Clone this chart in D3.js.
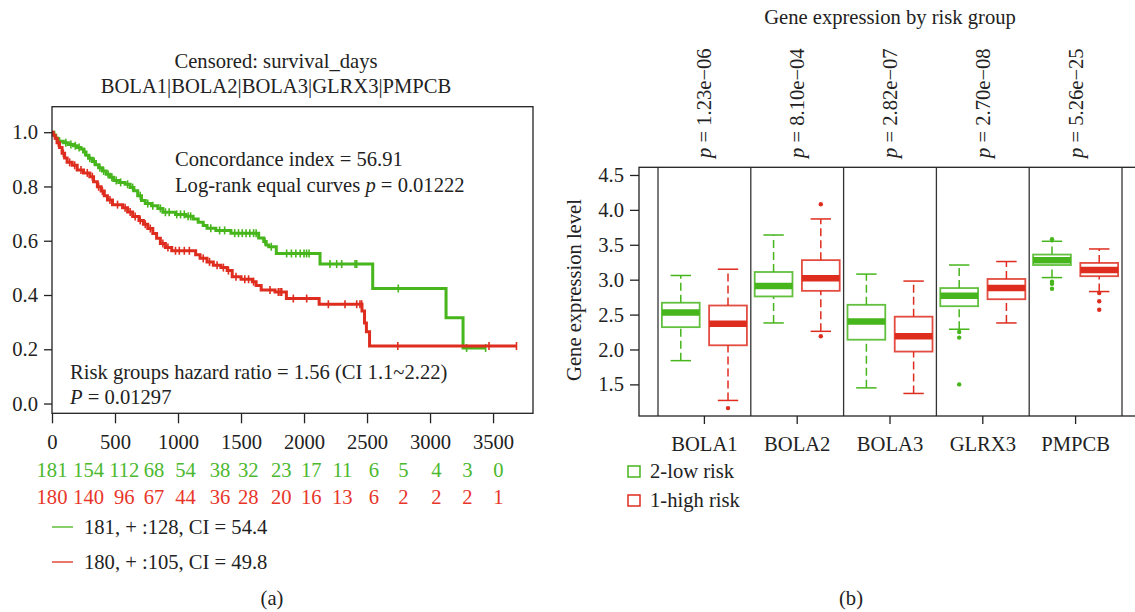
<!DOCTYPE html>
<html>
<head>
<meta charset="utf-8">
<script src="https://cdn.jsdelivr.net/npm/d3@7"></script>
<style>
  body { margin: 0; background: #fff; }
  svg { font-family: "Liberation Serif", "Times New Roman", serif; }
</style>
</head>
<body>
<svg id="chart" width="1135" height="612"></svg>
<script>
'use strict';

// ---- Kaplan-Meier data (time in days, survival after the drop) ----
const lowSteps = [[0, 1.0], [15, 0.989], [30, 0.978], [45, 0.967], [90, 0.961], [130, 0.955], [170, 0.95],
  [200, 0.944], [230, 0.938], [250, 0.927], [270, 0.915], [290, 0.904], [320, 0.892], [345, 0.88],
  [370, 0.869], [400, 0.857], [430, 0.845], [460, 0.834], [490, 0.822], [530, 0.815], [580, 0.808],
  [620, 0.796], [650, 0.784], [680, 0.766], [710, 0.748], [740, 0.737], [790, 0.729], [840, 0.719],
  [880, 0.705], [980, 0.697], [1060, 0.69], [1120, 0.68], [1160, 0.668], [1200, 0.656], [1230, 0.646],
  [1300, 0.638], [1420, 0.628], [1640, 0.61], [1680, 0.597], [1700, 0.584], [1720, 0.578], [1780, 0.553],
  [2127, 0.514], [2545, 0.424], [3127, 0.316], [3262, 0.205]];
const lowCensor = [60, 110, 150, 185, 215, 260, 300, 335, 380, 410, 445, 475, 510, 545, 600, 640, 700, 760,
  800, 860, 900, 930, 990, 1020, 1050, 1080, 1100, 1260, 1330, 1370, 1450, 1480, 1510, 1540, 1570, 1600,
  1620, 1690, 1740, 1862, 1900, 1935, 1970, 2000, 2020, 2040, 2206, 2259, 2299, 2405, 2418, 2748, 3290, 3441];

const highSteps = [[0, 1.0], [10, 0.989], [25, 0.978], [40, 0.961], [60, 0.944], [80, 0.922], [100, 0.905],
  [120, 0.889], [160, 0.878], [200, 0.861], [250, 0.85], [300, 0.836], [330, 0.817], [360, 0.799],
  [390, 0.783], [415, 0.766], [440, 0.75], [480, 0.733], [560, 0.722], [600, 0.706], [640, 0.689],
  [690, 0.675], [725, 0.661], [760, 0.645], [800, 0.627], [830, 0.609], [860, 0.59], [900, 0.575],
  [950, 0.563], [1140, 0.548], [1175, 0.535], [1230, 0.522], [1280, 0.51], [1340, 0.501], [1390, 0.49],
  [1430, 0.467], [1500, 0.458], [1590, 0.449], [1620, 0.435], [1660, 0.418], [1770, 0.411], [1860, 0.387],
  [2120, 0.366], [2460, 0.341], [2480, 0.297], [2495, 0.265], [2520, 0.212]];
const highCensor = [50, 90, 140, 180, 230, 280, 320, 370, 400, 460, 520, 580, 620, 660, 700, 740, 780, 880,
  920, 980, 1010, 1050, 1090, 1200, 1250, 1310, 1360, 1400, 1460, 1530, 1560, 1600, 1730, 1796, 1810, 1823,
  1915, 2021, 2193, 2325, 2418, 2444, 2458, 2744, 3468, 3686];

// numbers at risk; columns sit where the picture prints them (in days on the x scale)
const riskCols = [0, 290, 574, 809, 1060, 1334, 1558, 1820, 2058, 2304, 2555, 2788, 3050, 3296, 3542];
const lowAtRisk = [181, 154, 112, 68, 54, 38, 32, 23, 17, 11, 6, 5, 4, 3, 0];
const highAtRisk = [180, 140, 96, 67, 44, 36, 28, 20, 16, 13, 6, 2, 2, 2, 1];
const kmXTicks = [0, 500, 1000, 1500, 2000, 2500, 3000, 3500];
const kmYTicks = [0, 0.2, 0.4, 0.6, 0.8, 1.0];

// ---- Box plot data: [whisker low, Q1, median, Q3, whisker high] ----
const genes = ['BOLA1', 'BOLA2', 'BOLA3', 'GLRX3', 'PMPCB'];
const pValues = ['1.23e\u221206', '8.10e\u221204', '2.82e\u221207', '2.70e\u221208', '5.26e\u221225'];
const lowStats = [[1.84, 2.32, 2.53, 2.67, 3.06], [2.38, 2.76, 2.91, 3.11, 3.64], [1.45, 2.14, 2.40, 2.64, 3.08],
  [2.29, 2.62, 2.77, 2.88, 3.21], [3.03, 3.21, 3.28, 3.36, 3.55]];
const highStats = [[1.27, 2.06, 2.37, 2.63, 3.15], [2.26, 2.84, 3.02, 3.28, 3.87], [1.37, 1.97, 2.19, 2.47, 2.98],
  [2.38, 2.72, 2.88, 3.01, 3.26], [2.83, 3.05, 3.14, 3.24, 3.44]];
const lowOutliers = [[], [], [], [2.25, 2.17, 1.50], [3.58, 2.97, 2.94, 2.87]];
const highOutliers = [[1.16], [4.08, 2.19], [], [], [2.81, 2.69, 2.57]];
const exprTicks = [1.5, 2.0, 2.5, 3.0, 3.5, 4.0, 4.5];

const GREEN = '#47b51c';
const RED = '#de2d1f';
const INK = '#222';
const FS = 20.6; // font size used all over
const svg = d3.select('#chart');

// ================= (a) Kaplan-Meier =================
const kx = d3.scaleLinear().domain([0, 3817]).range([52, 533]);
const ky = d3.scaleLinear().domain([-0.036, 1.094]).range([413.3, 106.7]);

const km = svg.append('g');
km.append('text').attr('x', 276).attr('y', 68).attr('text-anchor', 'middle')
  .attr('font-size', FS).attr('fill', INK).text('Censored: survival_days');
km.append('text').attr('x', 276).attr('y', 93).attr('text-anchor', 'middle')
  .attr('font-size', FS).attr('fill', INK).text('BOLA1|BOLA2|BOLA3|GLRX3|PMPCB');

km.append('g').attr('transform', 'translate(52,0)')
  .call(d3.axisLeft(ky).tickValues(kmYTicks).tickFormat(d3.format('.1f')).tickSize(8).tickPadding(6))
  .call(g => g.select('.domain').remove())
  .attr('font-family', null).attr('font-size', FS);
km.append('g').attr('transform', 'translate(0,413.3)')
  .call(d3.axisBottom(kx).tickValues(kmXTicks).tickFormat(d3.format('d')).tickSize(10).tickPadding(11))
  .call(g => g.select('.domain').remove())
  .attr('font-family', null).attr('font-size', FS);
km.selectAll('.tick line').attr('stroke', INK).attr('stroke-width', 1.3);
km.selectAll('.tick text').attr('fill', INK);

const survAt = (steps, t) => steps[d3.bisector(d => d[0]).right(steps, t) - 1][1];
const stepLine = d3.line().x(d => kx(d[0])).y(d => ky(d[1])).curve(d3.curveStepAfter);

function drawCurve(steps, censor, color) {
  const end = d3.max(censor);
  const pts = steps.concat([[end, steps[steps.length - 1][1]]]);
  km.append('path').attr('d', stepLine(pts)).attr('fill', 'none')
    .attr('stroke', color).attr('stroke-width', 3);
  km.append('g').selectAll('line').data(censor).join('line')
    .attr('x1', d => kx(d)).attr('x2', d => kx(d))
    .attr('y1', d => ky(survAt(steps, d)) - 4).attr('y2', d => ky(survAt(steps, d)) + 4)
    .attr('stroke', color).attr('stroke-width', 1.6);
}
drawCurve(lowSteps, lowCensor, GREEN);
drawCurve(highSteps, highCensor, RED);

km.append('rect').attr('x', 52).attr('y', 106.7).attr('width', 533 - 52).attr('height', 413.3 - 106.7)
  .attr('fill', 'none').attr('stroke', INK).attr('stroke-width', 1.3);

const note = km.append('g').attr('font-size', FS).attr('fill', INK);
note.append('text').attr('x', 175).attr('y', 166).text('Concordance index = 56.91');
const lr = note.append('text').attr('x', 175).attr('y', 192);
lr.append('tspan').text('Log-rank equal curves ');
lr.append('tspan').attr('font-style', 'italic').text('p');
lr.append('tspan').text(' = 0.01222');
note.append('text').attr('x', 70).attr('y', 379).text('Risk groups hazard ratio = 1.56 (CI 1.1~2.22)');
const pp = note.append('text').attr('x', 70).attr('y', 404);
pp.append('tspan').attr('font-style', 'italic').text('P');
pp.append('tspan').text(' = 0.01297');

km.append('g').selectAll('text').data(lowAtRisk).join('text')
  .attr('x', (d, i) => kx(riskCols[i])).attr('y', 477).attr('text-anchor', 'middle')
  .attr('font-size', FS).attr('fill', '#4cb82e').text(d => d);
km.append('g').selectAll('text').data(highAtRisk).join('text')
  .attr('x', (d, i) => kx(riskCols[i])).attr('y', 504).attr('text-anchor', 'middle')
  .attr('font-size', FS).attr('fill', '#e8352a').text(d => d);

const kmLegend = [['181, + :128, CI = 54.4', GREEN], ['180, + :105, CI = 49.8', RED]];
kmLegend.forEach(([label, color], i) => {
  const y = 527 + i * 35;
  km.append('line').attr('x1', 52).attr('x2', 73).attr('y1', y).attr('y2', y)
    .attr('stroke', color).attr('stroke-width', 1.3);
  km.append('text').attr('x', 84).attr('y', y + 7).attr('font-size', FS).attr('fill', INK).text(label);
});
km.append('text').attr('x', 272).attr('y', 605).attr('text-anchor', 'middle')
  .attr('font-size', FS).attr('fill', INK).text('(a)');

// ================= (b) Box plots =================
const bx = d3.scaleBand().domain(genes).range([658, 1122]);
const sub = d3.scaleBand().domain(['low', 'high']).range([-42.5, 42.5]).paddingInner(0.2);
const by = d3.scaleLinear().domain([1.047, 4.61]).range([416, 167.3]);
const center = g => bx(g) + bx.bandwidth() / 2;

const bp = svg.append('g');
bp.append('text').attr('x', 890).attr('y', 24).attr('text-anchor', 'middle')
  .attr('font-size', FS).attr('fill', INK).text('Gene expression by risk group');

genes.forEach((g, i) => {
  const t = bp.append('text').attr('font-size', FS).attr('fill', INK)
    .attr('transform', `translate(${center(g) + 7},158) rotate(-90)`);
  t.append('tspan').attr('font-style', 'italic').text('p');
  t.append('tspan').text(' = ' + pValues[i]);
});

bp.append('g').attr('transform', 'translate(639,0)')
  .call(d3.axisLeft(by).tickValues(exprTicks).tickFormat(d3.format('.1f')).tickSize(9).tickPadding(6))
  .call(g => g.select('.domain').remove())
  .attr('font-family', null).attr('font-size', FS);
bp.append('g').attr('transform', 'translate(0,416)')
  .call(d3.axisBottom(bx).tickSize(8).tickPadding(12))
  .call(g => g.select('.domain').remove())
  .attr('font-family', null).attr('font-size', FS);
bp.selectAll('.tick line').attr('stroke', INK).attr('stroke-width', 1.3);
bp.selectAll('.tick text').attr('fill', INK);

bp.append('text').attr('transform', 'translate(581,290) rotate(-90)').attr('text-anchor', 'middle')
  .attr('font-size', FS).attr('fill', INK).text('Gene expression level');

// panel dividers
bp.append('g').selectAll('line').data(genes.concat(['end'])).join('line')
  .attr('x1', d => d === 'end' ? 1122 : bx(d)).attr('x2', d => d === 'end' ? 1122 : bx(d))
  .attr('y1', 167.3).attr('y2', 416).attr('stroke', '#333').attr('stroke-width', 1.3);

function drawBox(stats, outliers, key, color) {
  genes.forEach((g, i) => {
    const [lo, q1, med, q3, hi] = stats[i];
    const x0 = center(g) + sub(key);
    const w = sub.bandwidth();
    const cx = x0 + w / 2;
    const grp = bp.append('g');
    grp.selectAll('line.wh').data([[lo, q1], [q3, hi]]).join('line').attr('class', 'wh')
      .attr('x1', cx).attr('x2', cx).attr('y1', d => by(d[0])).attr('y2', d => by(d[1]))
      .attr('stroke', color).attr('stroke-width', 1.5).attr('stroke-dasharray', '8,4');
    grp.selectAll('line.cap').data([lo, hi]).join('line').attr('class', 'cap')
      .attr('x1', cx - w * 0.27).attr('x2', cx + w * 0.27).attr('y1', d => by(d)).attr('y2', d => by(d))
      .attr('stroke', color).attr('stroke-width', 1.5);
    grp.append('rect').attr('x', x0).attr('width', w).attr('y', by(q3)).attr('height', by(q1) - by(q3))
      .attr('fill', '#fff').attr('stroke', color).attr('stroke-width', 1.8).attr('stroke-opacity', 0.85);
    grp.append('line').attr('x1', x0).attr('x2', x0 + w).attr('y1', by(med)).attr('y2', by(med))
      .attr('stroke', color).attr('stroke-width', 6.5);
    grp.selectAll('circle').data(outliers[i]).join('circle')
      .attr('cx', cx).attr('cy', d => by(d)).attr('r', 2.2).attr('fill', color);
  });
}
drawBox(lowStats, lowOutliers, 'low', GREEN);
drawBox(highStats, highOutliers, 'high', RED);

bp.append('rect').attr('x', 639).attr('y', 167.3).attr('width', 520).attr('height', 416 - 167.3)
  .attr('fill', 'none').attr('stroke', INK).attr('stroke-width', 1.3);

const boxLegend = [['2-low risk', GREEN], ['1-high risk', RED]];
boxLegend.forEach(([label, color], i) => {
  const y = 466 + i * 29;
  bp.append('rect').attr('x', 628).attr('y', y).attr('width', 12).attr('height', 11)
    .attr('fill', 'none').attr('stroke', color).attr('stroke-width', 1.5);
  bp.append('text').attr('x', 650).attr('y', y + 12).attr('font-size', FS).attr('fill', INK).text(label);
});
bp.append('text').attr('x', 851).attr('y', 605).attr('text-anchor', 'middle')
  .attr('font-size', FS).attr('fill', INK).text('(b)');
</script>
</body>
</html>
